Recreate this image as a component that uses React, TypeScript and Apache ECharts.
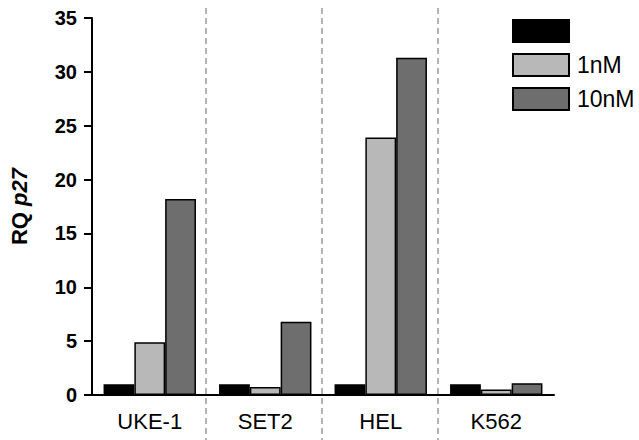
import React, { useEffect, useRef } from "react";
import * as echarts from "echarts";

const categories = ["UKE-1", "SET2", "HEL", "K562"];
const seriesNames = ["Control", "1nM", "10nM"];
const controlValues = [1.0, 1.0, 1.0, 1.0];
const oneNmValues = [4.9, 0.75, 23.9, 0.5];
const tenNmValues = [18.2, 6.8, 31.3, 1.1];
const seriesColors = ["#000000", "#b8b8b8", "#6e6e6e"];
const yMin = 0;
const yMax = 35;
const yInterval = 5;

const FONT = "'Liberation Sans', Arial, sans-serif";

export default function App() {
  const ref = useRef<HTMLDivElement>(null);
  useEffect(() => {
    if (!ref.current) return;
    const chart = echarts.init(ref.current, null, { renderer: "svg" });
    const values = [controlValues, oneNmValues, tenNmValues];
    chart.setOption({
      animation: false,
      backgroundColor: "#ffffff",
      textStyle: { fontFamily: FONT },
      grid: [
        { left: 90, right: 85, top: 18, bottom: 45 },
        { left: 90, right: 85, top: 8, bottom: 0 },
      ],
      legend: {
        orient: "vertical",
        left: 512,
        top: 19,
        padding: 0,
        icon: "rect",
        itemWidth: 56,
        itemHeight: 22,
        itemGap: 10,
        data: seriesNames,
        formatter: (name: string) => (name === "Control" ? "" : name),
        textStyle: {
          fontSize: 23,
          lineHeight: 22,
          color: "#000",
          fontFamily: FONT,
          padding: [0, 0, 0, 3],
        },
      },
      xAxis: [
        {
          type: "category",
          gridIndex: 0,
          data: categories,
          axisLine: { lineStyle: { color: "#000", width: 2 } },
          axisTick: { alignWithLabel: true, length: 7, lineStyle: { color: "#000", width: 2 } },
          axisLabel: { fontSize: 22, color: "#000", margin: 15, fontFamily: FONT },
          splitLine: { show: false },
        },
        {
          type: "category",
          gridIndex: 1,
          data: categories,
          axisLine: { show: false },
          axisTick: { show: false },
          axisLabel: { show: false },
          splitLine: {
            show: true,
            showMinLine: false,
            showMaxLine: false,
            lineStyle: { color: "#9a9a9a", width: 1.5, type: [6, 4] },
          },
        },
      ],
      yAxis: [
        {
          type: "value",
          gridIndex: 0,
          min: yMin,
          max: yMax,
          interval: yInterval,
          name: "{a|RQ }{b|p27}",
          nameLocation: "middle",
          nameRotate: 90,
          nameGap: 62,
          nameTextStyle: {
            rich: {
              a: { fontSize: 22, fontWeight: "bold", color: "#000", fontFamily: FONT },
              b: { fontSize: 22, fontWeight: "bold", fontStyle: "italic", color: "#000", fontFamily: FONT },
            },
          },
          axisLine: { show: true, lineStyle: { color: "#000", width: 2 } },
          axisTick: { show: true, length: 8, lineStyle: { color: "#000", width: 2 } },
          axisLabel: { fontSize: 20, fontWeight: "bold", color: "#000", margin: 15, fontFamily: FONT },
          splitLine: { show: false },
        },
        {
          type: "value",
          gridIndex: 1,
          show: false,
          min: 0,
          max: 1,
        },
      ],
      series: seriesNames.map((name, i) => ({
        name,
        type: "bar",
        xAxisIndex: 0,
        yAxisIndex: 0,
        data: values[i],
        barGap: "0%",
        barCategoryGap: "20%",
        itemStyle: { color: seriesColors[i], borderColor: "#000", borderWidth: 1.5 },
      })),
    });
    return () => chart.dispose();
  }, []);
  return (
    <div
      ref={ref}
      style={{ position: "fixed", left: 0, top: 0, width: 639, height: 440 }}
    />
  );
}
